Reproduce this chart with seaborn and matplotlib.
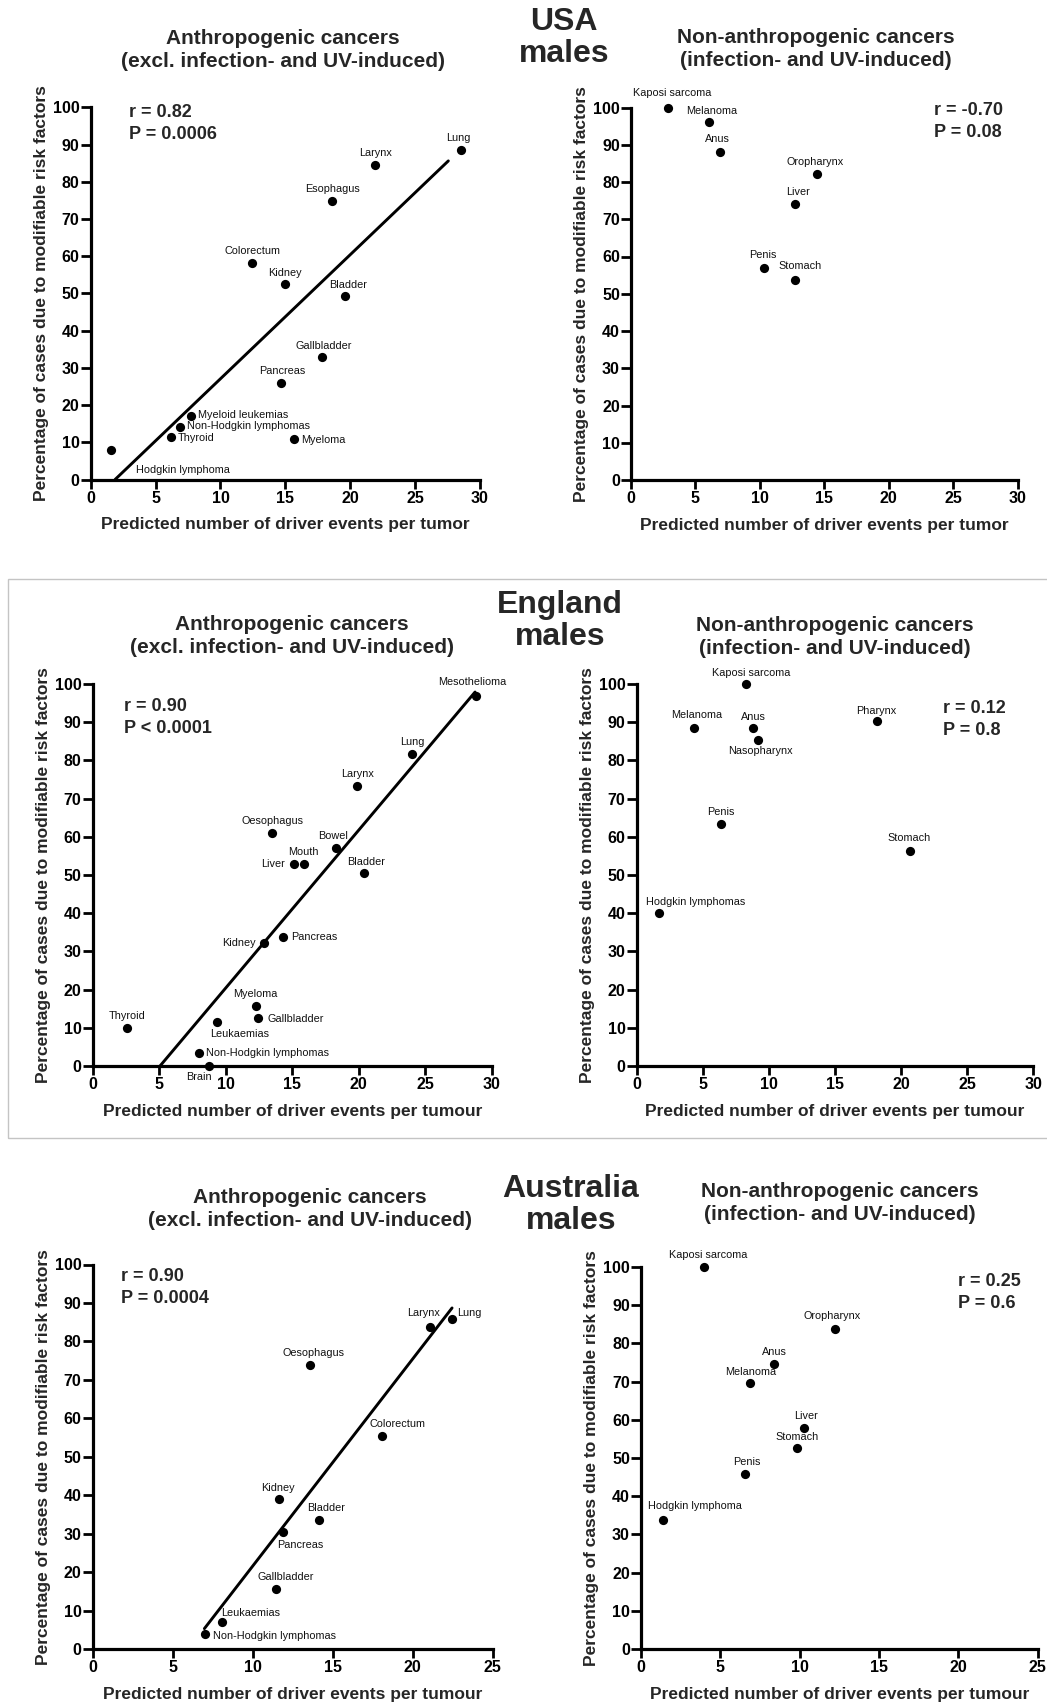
import numpy as np
import pandas as pd
import matplotlib
matplotlib.use('Agg')
import matplotlib.pyplot as plt
import seaborn as sns
from matplotlib.patches import Rectangle

# ---- data ----
# USA males, anthropogenic
usa_a_names = ['Lung', 'Larynx', 'Esophagus', 'Colorectum', 'Kidney', 'Bladder', 'Gallbladder',
               'Pancreas', 'Myeloid leukemias', 'Non-Hodgkin lymphomas', 'Thyroid', 'Myeloma',
               'Hodgkin lymphoma']
usa_a_x = [28.5, 21.9, 18.6, 12.45, 15.0, 19.6, 17.85, 14.65, 7.7, 6.9, 6.2, 15.7, 1.6]
usa_a_y = [88.6, 84.4, 74.7, 58.1, 52.4, 49.3, 32.8, 25.9, 17.0, 14.0, 11.3, 10.8, 7.9]
usa_a_fit_x = [1.88, 27.56]
usa_a_fit_y = [0.0, 85.6]

# USA males, non-anthropogenic
usa_n_names = ['Kaposi sarcoma', 'Melanoma', 'Anus', 'Oropharynx', 'Liver', 'Penis', 'Stomach']
usa_n_x = [2.9, 6.05, 6.9, 14.4, 12.7, 10.35, 12.7]
usa_n_y = [100, 96.0, 88.1, 82.2, 74.1, 57.0, 53.6]

# England males, anthropogenic
eng_a_names = ['Mesothelioma', 'Lung', 'Larynx', 'Oesophagus', 'Bowel', 'Liver', 'Mouth', 'Bladder',
               'Pancreas', 'Kidney', 'Myeloma', 'Gallbladder', 'Leukaemias', 'Thyroid',
               'Non-Hodgkin lymphomas', 'Brain']
eng_a_x = [28.8, 24.0, 19.85, 13.5, 18.3, 15.1, 15.85, 20.4, 14.3, 12.85, 12.25, 12.45, 9.35, 2.55, 8.0, 8.75]
eng_a_y = [96.9, 81.8, 73.4, 60.9, 57.0, 53.0, 53.0, 50.6, 33.9, 32.2, 15.8, 12.6, 11.4, 9.9, 3.5, 0.0]
eng_a_fit_x = [5.06, 28.75]
eng_a_fit_y = [0.0, 97.9]

# England males, non-anthropogenic
eng_n_names = ['Kaposi sarcoma', 'Melanoma', 'Anus', 'Nasopharynx', 'Pharynx', 'Penis', 'Stomach',
               'Hodgkin lymphomas']
eng_n_x = [8.3, 4.35, 8.8, 9.2, 18.15, 6.4, 20.7, 1.7]
eng_n_y = [100, 88.6, 88.6, 85.3, 90.3, 63.3, 56.4, 40.1]

# Australia males, anthropogenic
aus_a_names = ['Lung', 'Larynx', 'Oesophagus', 'Colorectum', 'Kidney', 'Bladder', 'Pancreas',
               'Gallbladder', 'Leukaemias', 'Non-Hodgkin lymphomas']
aus_a_x = [22.45, 21.1, 13.6, 18.05, 11.65, 14.15, 11.9, 11.45, 8.05, 7.0]
aus_a_y = [85.7, 83.7, 73.9, 55.5, 39.1, 33.6, 30.4, 15.7, 6.9, 3.8]
aus_a_fit_x = [6.98, 22.46]
aus_a_fit_y = [5.3, 88.7]

# Australia males, non-anthropogenic
aus_n_names = ['Kaposi sarcoma', 'Oropharynx', 'Anus', 'Melanoma', 'Liver', 'Stomach', 'Penis',
               'Hodgkin lymphoma']
aus_n_x = [3.95, 12.2, 8.4, 6.85, 10.25, 9.85, 6.55, 1.4]
aus_n_y = [100, 83.8, 74.5, 69.7, 57.9, 52.6, 45.7, 33.9]

stats_text = ['r = 0.82\nP = 0.0006', 'r = -0.70\nP = 0.08',
              'r = 0.90\nP < 0.0001', 'r = 0.12\nP = 0.8',
              'r = 0.90\nP = 0.0004', 'r = 0.25\nP = 0.6']

# label offsets (pixels, y up) and alignment for every point label
usa_a_off = [(-2, 12, 'center'), (1, 12, 'center'), (0, 12, 'center'), (0, 12, 'center'),
             (0, 11, 'center'), (3, 11, 'center'), (1, 11, 'center'), (1, 12, 'center'),
             (7, 1, 'left'), (7, 1, 'left'), (7, -1, 'left'), (7, -1, 'left'), (25, -20, 'left')]
usa_n_off = [(4, 14, 'center'), (3, 11, 'center'), (-2, 13, 'center'), (-1, 12, 'center'),
             (3, 12, 'center'), (-2, 13, 'center'), (5, 14, 'center')]
eng_a_off = [(-3, 14, 'center'), (0, 12, 'center'), (1, 12, 'center'), (0, 12, 'center'),
             (-3, 12, 'center'), (-9, 0, 'right'), (0, 12, 'center'), (2, 11, 'center'),
             (8, 0, 'left'), (-8, 0, 'right'), (0, 12, 'center'), (9, -1, 'left'),
             (23, -12, 'center'), (0, 12, 'center'), (7, 0, 'left'), (-10, -11, 'center')]
eng_n_off = [(5, 11, 'center'), (2, 13, 'center'), (0, 11, 'center'), (2, -11, 'center'),
             (0, 10, 'center'), (0, 12, 'center'), (-1, 13, 'center'), (36, 11, 'center')]
aus_a_off = [(5, 6, 'left'), (-7, 14, 'center'), (3, 12, 'center'), (16, 12, 'center'),
             (-1, 11, 'center'), (7, 12, 'center'), (17, -13, 'center'), (10, 12, 'center'),
             (29, 9, 'center'), (8, -2, 'left')]
aus_n_off = [(5, 12, 'center'), (-2, 13, 'center'), (0, 12, 'center'), (1, 11, 'center'),
             (2, 12, 'center'), (0, 11, 'center'), (2, 12, 'center'), (32, 14, 'center')]

# ---- figure ----
sns.set_theme(style='ticks')
plt.rcParams['font.family'] = ['Liberation Sans', 'DejaVu Sans']

W, H = 1047, 1705
fig = plt.figure(figsize=(W / 100, H / 100), dpi=100)


def fx(px):
    return px / W


def fy(py):
    return 1 - py / H


def make_panel(rect_px, xmax, names, xs, ys, offs, stats, stats_pos, xlabel, fit=None):
    # rect_px: (x_left, y_top, x_right, y_bottom) of the plot area in pixels
    x0, y0, x1, y1 = rect_px
    ax = fig.add_axes([fx(x0), fy(y1), (x1 - x0) / W, (y1 - y0) / H])
    df = pd.DataFrame({'x': xs, 'y': ys, 'name': names})
    sns.scatterplot(data=df, x='x', y='y', ax=ax, color='black', s=44,
                    edgecolor='black', linewidth=0, clip_on=False, zorder=3)
    if fit is not None:
        sns.lineplot(x=fit[0], y=fit[1], ax=ax, color='black', lw=2.1)
    for nm, xv, yv, (dx, dy, ha) in zip(names, xs, ys, offs):
        ax.annotate(nm, (xv, yv), xytext=(dx, dy), textcoords='offset pixels',
                    ha=ha, va='center', fontsize=7.8, color='#111111')
    ax.set_xlim(0, xmax)
    ax.set_ylim(0, 100)
    ax.set_xticks(np.arange(0, xmax + 1, 5))
    ax.set_yticks(np.arange(0, 101, 10))
    sns.despine(ax=ax)
    for sp in ['left', 'bottom']:
        ax.spines[sp].set_linewidth(2.3)
        ax.spines[sp].set_color('black')
    ax.tick_params(axis='both', direction='out', width=2.0, colors='black', labelsize=11.5)
    ax.tick_params(axis='y', length=7.5, pad=0.5)
    ax.tick_params(axis='x', length=6.5, pad=1.5)
    for lab in ax.get_xticklabels() + ax.get_yticklabels():
        lab.set_fontweight('bold')
    ax.set_xlabel(xlabel, fontsize=12.5, fontweight='bold', labelpad=8.5)
    ax.set_ylabel('Percentage of cases due to modifiable risk factors', fontsize=12.5,
                  fontweight='bold', labelpad=3)
    ax.grid(False)
    fig.text(fx(stats_pos[0]), fy(stats_pos[1]), stats, ha='left', va='top',
             fontsize=13, fontweight='bold', linespacing=1.4)
    return ax


title_a = 'Anthropogenic cancers\n(excl. infection- and UV-induced)'
title_n = 'Non-anthropogenic cancers\n(infection- and UV-induced)'
xl_us = 'Predicted number of driver events per tumor'
xl_uk = 'Predicted number of driver events per tumour'

# USA
make_panel((90.7, 107.3, 480, 479.5), 30, usa_a_names, usa_a_x, usa_a_y, usa_a_off,
           stats_text[0], (129, 104), xl_us, (usa_a_fit_x, usa_a_fit_y))
make_panel((631, 107.5, 1017.5, 480), 30, usa_n_names, usa_n_x, usa_n_y, usa_n_off,
           stats_text[1], (934, 102), xl_us)
# England
make_panel((92.7, 684, 491.7, 1066), 30, eng_a_names, eng_a_x, eng_a_y, eng_a_off,
           stats_text[2], (124, 698), xl_uk, (eng_a_fit_x, eng_a_fit_y))
make_panel((636.7, 684, 1033.3, 1066), 30, eng_n_names, eng_n_x, eng_n_y, eng_n_off,
           stats_text[3], (943, 700), xl_uk)
# Australia
make_panel((92.7, 1264.5, 492.7, 1649), 25, aus_a_names, aus_a_x, aus_a_y, aus_a_off,
           stats_text[4], (121, 1268), xl_uk, (aus_a_fit_x, aus_a_fit_y))
make_panel((641, 1267, 1037.7, 1649), 25, aus_n_names, aus_n_x, aus_n_y, aus_n_off,
           stats_text[5], (958, 1273), xl_uk)

# panel titles
for cx, cy, t in [(283, 50, title_a), (816, 49, title_n),
                  (292, 636, title_a), (835, 637, title_n),
                  (310, 1209, title_a), (840, 1203, title_n)]:
    fig.text(fx(cx), fy(cy), t, ha='center', va='center', fontsize=15,
             fontweight='bold', linespacing=1.25)

# country headers
for cx, cy, t in [(564, 38, 'USA\nmales'), (560, 621, 'England\nmales'),
                  (571, 1205, 'Australia\nmales')]:
    fig.text(fx(cx), fy(cy), t, ha='center', va='center', fontsize=23,
             fontweight='bold', linespacing=1.07)

# light frame around the England block
fig.add_artist(Rectangle((fx(8), fy(1138)), fx(1060) - fx(8), fy(579) - fy(1138),
                         transform=fig.transFigure, fill=False, edgecolor='#c4c4c4',
                         linewidth=1.0))

fig.savefig('out.png', dpi=100, facecolor='white')
